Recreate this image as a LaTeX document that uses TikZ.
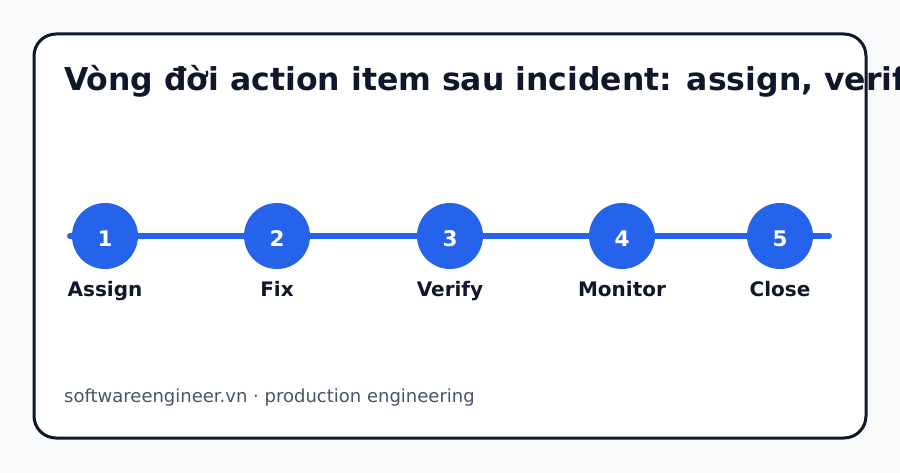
\documentclass[tikz,border=0pt]{standalone}
\usepackage{fontspec}
\setmainfont{DejaVu Sans}
\definecolor{bgc}{HTML}{F8FAFC}
\definecolor{ink}{HTML}{0F172A}
\definecolor{blu}{HTML}{2563EB}
\definecolor{muted}{HTML}{475569}
\tikzset{
  stepdot/.style={circle, fill=blu, minimum size=66pt, inner sep=0pt},
  stepnum/.style={anchor=base, inner sep=0pt, text=white, font=\bfseries\fontsize{21.5}{21.5}\selectfont},
  steplabel/.style={anchor=base, text=ink, font=\bfseries\fontsize{20}{20}\selectfont, inner sep=0pt},
}
\begin{document}
\begin{tikzpicture}[x=1pt,y=-1pt]
\useasboundingbox (0,0) rectangle (900,473);
\fill[bgc] (0,0) rectangle (900,473);
\draw[ink, line width=3pt, fill=white, rounded corners=22pt] (34,34) rectangle (866,438);
\node[anchor=base west, inner sep=0pt, text=ink, font=\bfseries\fontsize{31.5}{31.5}\selectfont] (title) at (64,91) {Vòng đời action item sau incident: assign, verify, close};
\coordinate (ls) at (70,236);
\coordinate (le) at (829,236);
\draw[blu, line width=6pt, line cap=round] (ls) -- (le);
\node[stepdot] (s1) at (105,236) {};
\node[stepdot] (s2) at (277,236) {};
\node[stepdot] (s3) at (450,236) {};
\node[stepdot] (s4) at (622,236) {};
\node[stepdot] (s5) at (780,236) {};
\node[stepnum] (n1) at (105,247) {1};
\node[stepnum] (n2) at (277,247) {2};
\node[stepnum] (n3) at (450,247) {3};
\node[stepnum] (n4) at (622,247) {4};
\node[stepnum] (n5) at (780,247) {5};
\node[steplabel] (l1) at (105,297) {Assign};
\node[steplabel] (l2) at (277,297) {Fix};
\node[steplabel] (l3) at (450,297) {Verify};
\node[steplabel] (l4) at (622,297) {Monitor};
\node[steplabel] (l5) at (780,297) {Close};
\node[anchor=base west, inner sep=0pt, text=muted, font=\fontsize{18}{18}\selectfont] (foot) at (64,402) {softwareengineer.vn · production engineering};
\end{tikzpicture}
\end{document}
